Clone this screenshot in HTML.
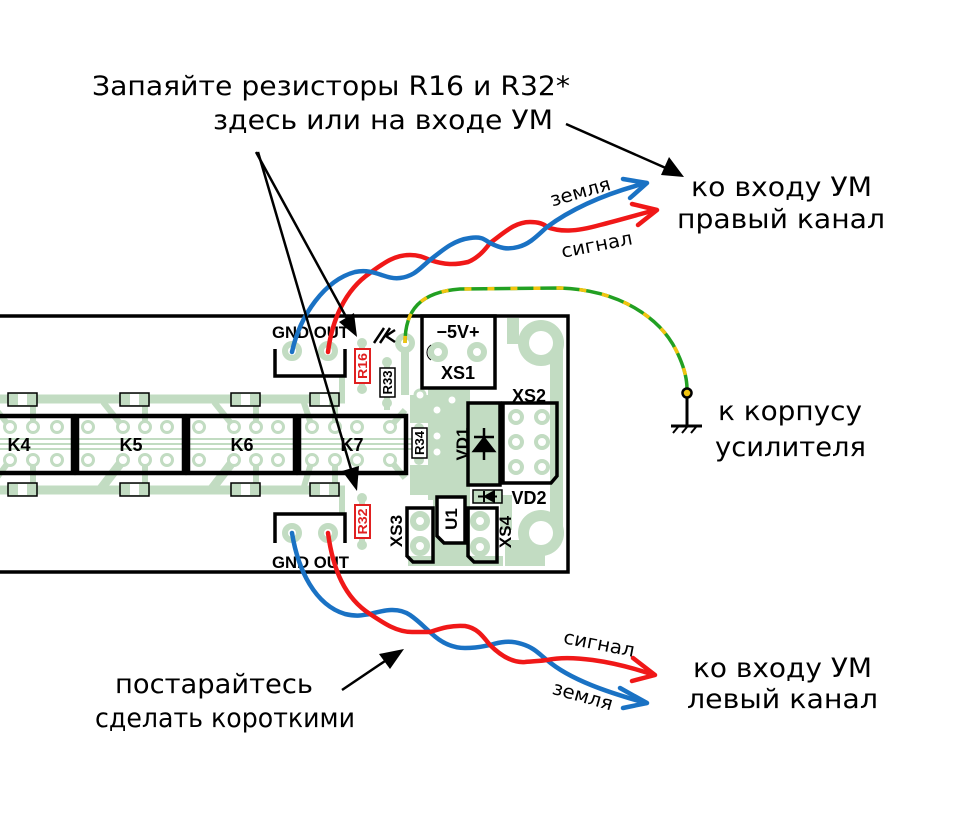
<!DOCTYPE html>
<html><head><meta charset="utf-8"><style>
html,body{margin:0;padding:0;background:#fff;}
svg{display:block;}
.t{font-family:"DejaVu Sans","Liberation Sans",sans-serif;fill:#000;}
.b{font-family:"Liberation Sans","DejaVu Sans",sans-serif;font-weight:bold;fill:#000;}
</style></head><body>
<svg width="958" height="826" viewBox="0 0 958 826" xmlns="http://www.w3.org/2000/svg">
<rect width="958" height="826" fill="#fff"/>

<!-- PCB base -->
<rect x="-5" y="316" width="573" height="256" fill="#fff"/>

<!-- green copper -->
<g stroke="#c2dcc2" fill="none" stroke-linecap="butt">
  <line x1="0" y1="399" x2="345" y2="399" stroke-width="9"/>
  <line x1="0" y1="490" x2="345" y2="490" stroke-width="9"/>
  <line x1="0" y1="439" x2="412" y2="439" stroke-width="2"/>
  <line x1="0" y1="444" x2="412" y2="444" stroke-width="2"/>
  <line x1="0" y1="449" x2="412" y2="449" stroke-width="2"/>
  <line x1="-10" y1="402" x2="10" y2="427" stroke-width="6"/>
  <line x1="33" y1="402" x2="33" y2="427" stroke-width="6"/>
  <line x1="-10" y1="487" x2="10" y2="460" stroke-width="6"/>
  <line x1="33" y1="487" x2="33" y2="460" stroke-width="6"/>
  <line x1="103" y1="402" x2="123" y2="427" stroke-width="6"/>
  <line x1="145" y1="402" x2="145" y2="427" stroke-width="6"/>
  <line x1="100" y1="490" x2="123" y2="460" stroke-width="9"/>
  <line x1="145" y1="487" x2="145" y2="460" stroke-width="6"/>
  <line x1="214" y1="402" x2="234" y2="427" stroke-width="6"/>
  <line x1="256" y1="402" x2="256" y2="427" stroke-width="6"/>
  <line x1="211" y1="490" x2="234" y2="460" stroke-width="9"/>
  <line x1="256" y1="487" x2="256" y2="460" stroke-width="6"/>
  <line x1="303" y1="400" x2="312" y2="427" stroke-width="6"/>
  <line x1="335" y1="402" x2="335" y2="427" stroke-width="6"/>
  <line x1="303" y1="490" x2="312" y2="460" stroke-width="6"/>
  <line x1="335" y1="487" x2="335" y2="460" stroke-width="6"/>
  <line x1="342" y1="376" x2="342" y2="399" stroke-width="6"/>
  <line x1="342" y1="490" x2="342" y2="513" stroke-width="6"/>
  <line x1="362" y1="343" x2="362" y2="389" stroke-width="6"/>
  <line x1="362" y1="498" x2="362" y2="545" stroke-width="6"/>
  <line x1="387" y1="362" x2="387" y2="410" stroke-width="6"/>
  <line x1="405" y1="343" x2="405" y2="395" stroke-width="8"/>
  <line x1="390" y1="427" x2="405" y2="410" stroke-width="6"/>
  <line x1="390" y1="460" x2="405" y2="478" stroke-width="6"/>
</g>
<g fill="#c2dcc2">
  <rect x="428" y="388" width="42" height="112"/>
  <rect x="410" y="395" width="22" height="28"/>
  <rect x="410" y="465" width="22" height="30"/>
  <rect x="433" y="500" width="37" height="66"/>
  <rect x="408" y="556" width="95" height="10"/>
  <circle cx="541" cy="343" r="23"/>
  <circle cx="541" cy="533" r="23"/>
  <rect x="550" y="343" width="13" height="190"/>
  <rect x="507" y="318" width="12" height="26"/>
  <rect x="505" y="540" width="40" height="26"/>
  <rect x="500" y="495" width="12" height="35"/>
  <circle cx="362" cy="343" r="5"/>
  <circle cx="362" cy="389" r="5"/>
  <circle cx="362" cy="498" r="5"/>
  <circle cx="362" cy="545" r="5"/>
  <circle cx="387" cy="362" r="5"/>
  <circle cx="387" cy="403" r="5"/>
  <circle cx="419" cy="428" r="5"/>
  <circle cx="419" cy="460" r="5"/>
</g>
<g fill="#fff">
  <circle cx="541" cy="343" r="12"/>
  <circle cx="541" cy="533" r="12"/>
</g>
<g fill="#fff" stroke="#c2dcc2" stroke-width="3">
  <circle cx="420" cy="395" r="5"/>
  <circle cx="437" cy="410" r="5"/>
  <circle cx="437" cy="436" r="5"/>
  <circle cx="437" cy="452" r="5"/>
  <circle cx="452" cy="400" r="5"/>
</g>

<!-- relay pads -->
<g fill="#fff" stroke="#c2dcc2" stroke-width="3">
  <circle cx="10" cy="427" r="5.5"/><circle cx="33" cy="427" r="5.5"/><circle cx="57" cy="427" r="5.5"/>
  <circle cx="10" cy="460" r="5.5"/><circle cx="33" cy="460" r="5.5"/><circle cx="57" cy="460" r="5.5"/>
  <circle cx="88" cy="427" r="5.5"/><circle cx="123" cy="427" r="5.5"/><circle cx="145" cy="427" r="5.5"/><circle cx="167" cy="427" r="5.5"/>
  <circle cx="88" cy="460" r="5.5"/><circle cx="123" cy="460" r="5.5"/><circle cx="145" cy="460" r="5.5"/><circle cx="167" cy="460" r="5.5"/>
  <circle cx="199" cy="427" r="5.5"/><circle cx="234" cy="427" r="5.5"/><circle cx="256" cy="427" r="5.5"/><circle cx="278" cy="427" r="5.5"/>
  <circle cx="199" cy="460" r="5.5"/><circle cx="234" cy="460" r="5.5"/><circle cx="256" cy="460" r="5.5"/><circle cx="278" cy="460" r="5.5"/>
  <circle cx="312" cy="427" r="5.5"/><circle cx="335" cy="427" r="5.5"/><circle cx="357" cy="427" r="5.5"/><circle cx="390" cy="427" r="5.5"/>
  <circle cx="312" cy="460" r="5.5"/><circle cx="335" cy="460" r="5.5"/><circle cx="357" cy="460" r="5.5"/><circle cx="390" cy="460" r="5.5"/>
</g>
<g fill="#fff" stroke="#c2dcc2" stroke-width="6">
  <circle cx="292" cy="351" r="7"/><circle cx="328" cy="351" r="7"/>
  <circle cx="292" cy="533" r="7"/><circle cx="328" cy="533" r="7"/>
  <circle cx="405" cy="343" r="7"/>
  <circle cx="438" cy="352" r="7"/><circle cx="477" cy="352" r="7"/>
  <circle cx="420" cy="521" r="7"/><circle cx="420" cy="546" r="7"/>
  <circle cx="480" cy="521" r="7"/><circle cx="480" cy="547" r="7"/>
</g>
<g fill="#fff" stroke="#c2dcc2" stroke-width="4">
  <circle cx="516" cy="417" r="6"/><circle cx="542" cy="417" r="6"/>
  <circle cx="516" cy="442" r="6"/><circle cx="542" cy="442" r="6"/>
  <circle cx="516" cy="467" r="6"/><circle cx="542" cy="467" r="6"/>
</g>

<!-- SMD parts -->
<g stroke="#000" stroke-width="1.5" fill="#c2dcc2">
  <rect x="8" y="393" width="29" height="13"/><rect x="120" y="393" width="29" height="13"/>
  <rect x="231" y="393" width="29" height="13"/><rect x="310" y="393" width="29" height="13"/>
  <rect x="8" y="483" width="29" height="13"/><rect x="120" y="483" width="29" height="13"/>
  <rect x="231" y="483" width="29" height="13"/><rect x="310" y="483" width="29" height="13"/>
</g>
<g fill="#fff">
  <rect x="18" y="394" width="9" height="11"/><rect x="130" y="394" width="9" height="11"/>
  <rect x="241" y="394" width="9" height="11"/><rect x="320" y="394" width="9" height="11"/>
  <rect x="18" y="484" width="9" height="11"/><rect x="130" y="484" width="9" height="11"/>
  <rect x="241" y="484" width="9" height="11"/><rect x="320" y="484" width="9" height="11"/>
</g>

<!-- relays -->
<g fill="none" stroke="#000" stroke-width="4.5">
  <rect x="-10" y="416" width="83" height="57"/>
  <rect x="77" y="416" width="107" height="57"/>
  <rect x="188" y="416" width="107" height="57"/>
  <rect x="299" y="416" width="107" height="57"/>
</g>
<g class="b" font-size="18" text-anchor="middle">
  <text x="19" y="451">K4</text>
  <text x="131" y="451">K5</text>
  <text x="242" y="451">K6</text>
  <text x="352" y="451">K7</text>
</g>

<!-- connector brackets -->
<g fill="none" stroke="#000" stroke-width="3.5">
  <polyline points="275,349 275,376 345,376 345,349"/>
  <polyline points="275,543 275,514 345,514 345,543"/>
</g>
<g class="b" font-size="17">
  <text x="272" y="338" textLength="77" lengthAdjust="spacingAndGlyphs">GND OUT</text>
  <text x="272" y="568" textLength="77" lengthAdjust="spacingAndGlyphs">GND OUT</text>
</g>

<!-- resistors -->
<rect x="355" y="349" width="15" height="34" fill="#fff" stroke="#e02020" stroke-width="2"/>
<rect x="355" y="505" width="15" height="33" fill="#fff" stroke="#e02020" stroke-width="2"/>
<rect x="380" y="368" width="15" height="29" fill="#fff" stroke="#000" stroke-width="1.5"/>
<rect x="412" y="428" width="15" height="30" fill="#fff" stroke="#000" stroke-width="1.5"/>
<g class="b" font-size="13" text-anchor="middle">
  <text transform="translate(367,366) rotate(-90)" fill="#e02020" textLength="26" lengthAdjust="spacingAndGlyphs">R16</text>
  <text transform="translate(367,521.5) rotate(-90)" fill="#e02020" textLength="26" lengthAdjust="spacingAndGlyphs">R32</text>
  <text transform="translate(392,382.5) rotate(-90)" textLength="24" lengthAdjust="spacingAndGlyphs">R33</text>
  <text transform="translate(424,443) rotate(-90)" textLength="24" lengthAdjust="spacingAndGlyphs">R34</text>
</g>

<!-- chassis symbol -->
<g stroke="#000" stroke-width="2.5" fill="none">
  <line x1="374" y1="343" x2="384" y2="328"/>
  <line x1="380" y1="343" x2="390" y2="328"/>
  <polyline points="395,330 386,336 395,342"/>
</g>

<!-- XS1 -->
<rect x="422" y="316" width="73" height="72" fill="none" stroke="#000" stroke-width="3.5"/>
<path d="M431,345 A9,9 0 0 0 431,360" fill="none" stroke="#000" stroke-width="1"/>
<text class="b" x="458" y="338" font-size="18" text-anchor="middle">−5V+</text>
<text class="b" x="458" y="379" font-size="18" text-anchor="middle" font-weight="normal">XS1</text>

<!-- XS2 -->
<path d="M503,403 L557,403 L557,476 L551,483 L503,483 Z" fill="none" stroke="#000" stroke-width="3.5"/>
<text class="b" x="529" y="402" font-size="18" text-anchor="middle" font-weight="normal">XS2</text>

<!-- VD1 -->
<rect x="468" y="403" width="32" height="82" fill="#c2dcc2" stroke="#000" stroke-width="3.5"/>
<g stroke="#000" stroke-width="2.5" fill="#000">
  <line x1="484" y1="428" x2="484" y2="460"/>
  <line x1="474" y1="437" x2="494" y2="437"/>
  <path d="M474,451 L494,451 L484,438 Z"/>
</g>
<text class="b" font-size="17" font-weight="normal" text-anchor="middle" transform="translate(468,444) rotate(-90)">VD1</text>

<!-- VD2 -->
<rect x="473" y="490" width="29" height="13" fill="#c2dcc2" stroke="#000" stroke-width="1.5"/>
<g stroke="#000" stroke-width="2" fill="#000">
  <line x1="478" y1="496.5" x2="497" y2="496.5"/>
  <line x1="484" y1="491" x2="484" y2="502"/>
  <path d="M485,496.5 L494,491.5 L494,501.5 Z"/>
</g>
<text class="b" x="529" y="504" font-size="18" text-anchor="middle" font-weight="normal">VD2</text>

<!-- U1 / XS3 / XS4 -->
<path d="M437,497 L465,497 L465,543 L444,543 L437,536 Z" fill="#fff" stroke="#000" stroke-width="3.5"/>
<text class="b" font-size="17" font-weight="normal" text-anchor="middle" transform="translate(457,519) rotate(-90)">U1</text>
<path d="M407,508 L433,508 L433,562 L413,562 L407,556 Z" fill="none" stroke="#000" stroke-width="3.5"/>
<path d="M468,508 L497,508 L497,562 L474,562 L468,556 Z" fill="none" stroke="#000" stroke-width="3.5"/>
<text class="b" font-size="17" font-weight="normal" text-anchor="middle" transform="translate(402,531) rotate(-90)">XS3</text>
<text class="b" font-size="17" font-weight="normal" text-anchor="middle" transform="translate(511,532) rotate(-90)">XS4</text>

<!-- PCB outline -->
<path d="M-5,316 L568,316 L568,572 L-5,572" fill="none" stroke="#000" stroke-width="3.5"/>

<!-- green/yellow wire -->
<path d="M405,343 C405,310 420,292 460,289 L560,288 C620,290 660,318 676,350 C684,366 687,378 687,389" fill="none" stroke="#22a022" stroke-width="3.5"/>
<path d="M405,343 C405,310 420,292 460,289 L560,288 C620,290 660,318 676,350 C684,366 687,378 687,389" fill="none" stroke="#f2c40f" stroke-width="3.5" stroke-dasharray="7 16"/>

<!-- ground symbol -->
<circle cx="687" cy="393" r="4.5" fill="#f2c40f" stroke="#000" stroke-width="2.5"/>
<g stroke="#000" stroke-width="3" fill="none">
  <line x1="687" y1="397" x2="687" y2="426"/>
  <line x1="671" y1="426" x2="702" y2="426"/>
  <line x1="678" y1="427" x2="673" y2="433" stroke-width="2"/>
  <line x1="687" y1="427" x2="682" y2="433" stroke-width="2"/>
  <line x1="696" y1="427" x2="691" y2="433" stroke-width="2"/>
</g>

<!-- twisted pairs -->
<g fill="none" stroke-width="4.5" stroke-linecap="round" stroke-linejoin="round">
  <path stroke="#f01818" d="M328,352 C332,320 345,290 370,273 C385,262 395,255 410,255 C420,255 425,258 430,260 C445,265 455,265 468,262 C478,258 485,250 490,243 C505,232 515,222 530,222 C540,222 545,225 547,227 C560,232 575,232 600,225 C620,220 640,214 656,210"/>
  <path stroke="#1a72c4" d="M292,352 C300,315 325,280 355,272 C375,268 385,280 400,278 C415,276 420,268 430,260 C445,248 455,240 470,238 C482,236 485,240 490,243 C500,248 507,250 518,247 C530,244 538,235 547,227 C570,210 600,195 646,183"/>
  <polyline stroke="#1a72c4" points="623,179 647,183 630,198"/>
  <polyline stroke="#f01818" points="632,204 657,210 638,225"/>
  <path stroke="#1a72c4" d="M292,533 C298,570 315,605 345,614 C358,617 363,615 370,614 C385,610 398,607 410,615 C420,622 425,628 430,632 C440,642 452,648 465,648 C478,648 484,646 490,645 C500,642 510,640 522,644 C535,648 540,655 547,660 C570,680 610,693 646,703"/>
  <path stroke="#f01818" d="M328,533 C333,570 345,598 370,614 C385,624 397,632 412,632 C422,632 426,632 430,632 C442,628 452,625 465,626 C478,628 484,638 490,645 C500,655 512,663 525,662 C535,661 541,661 547,660 C570,655 610,660 654,675"/>
  <polyline stroke="#f01818" points="633,658 655,675 632,681"/>
  <polyline stroke="#1a72c4" points="620,688 647,703 623,708"/>
</g>

<!-- wire labels -->
<g class="t" font-size="19" text-anchor="middle">
  <text transform="translate(582,198) rotate(-16)" textLength="62" lengthAdjust="spacingAndGlyphs">земля</text>
  <text transform="translate(598,251) rotate(-11)" textLength="72" lengthAdjust="spacingAndGlyphs">сигнал</text>
  <text transform="translate(598,650) rotate(11)" textLength="72" lengthAdjust="spacingAndGlyphs">сигнал</text>
  <text transform="translate(581,702) rotate(16)" textLength="62" lengthAdjust="spacingAndGlyphs">земля</text>
</g>

<!-- black arrows -->
<g stroke="#000" stroke-width="2.5" fill="none">
  <line x1="566" y1="124" x2="668" y2="169"/>
  <line x1="256" y1="152" x2="350" y2="324"/>
  <line x1="258" y1="152" x2="353" y2="476"/>
  <line x1="342" y1="690" x2="388" y2="659"/>
</g>
<g fill="#000">
  <path d="M684,177 L661,175 L669,157 Z"/>
  <path d="M357,337 L339,322 L354,313 Z"/>
  <path d="M357,491 L342,471 L359,466 Z"/>
  <path d="M404,649 L390,669 L379,654 Z"/>
</g>

<!-- main labels -->
<g class="t" font-size="27">
  <text x="92" y="95" textLength="478" lengthAdjust="spacingAndGlyphs">Запаяйте резисторы R16 и R32*</text>
  <text x="213" y="129" textLength="340" lengthAdjust="spacingAndGlyphs">здесь или на входе УМ</text>
  <text x="691" y="196" textLength="181" lengthAdjust="spacingAndGlyphs">ко входу УМ</text>
  <text x="677" y="228" textLength="208" lengthAdjust="spacingAndGlyphs">правый канал</text>
  <text x="718" y="420" textLength="144" lengthAdjust="spacingAndGlyphs">к корпусу</text>
  <text x="715" y="456" textLength="151" lengthAdjust="spacingAndGlyphs">усилителя</text>
  <text x="693" y="677" textLength="179" lengthAdjust="spacingAndGlyphs">ко входу УМ</text>
  <text x="687" y="708" textLength="191" lengthAdjust="spacingAndGlyphs">левый канал</text>
  <text x="115" y="693" textLength="198" lengthAdjust="spacingAndGlyphs">постарайтесь</text>
  <text x="95" y="727" textLength="260" lengthAdjust="spacingAndGlyphs">сделать короткими</text>
</g>
</svg>
</body></html>
